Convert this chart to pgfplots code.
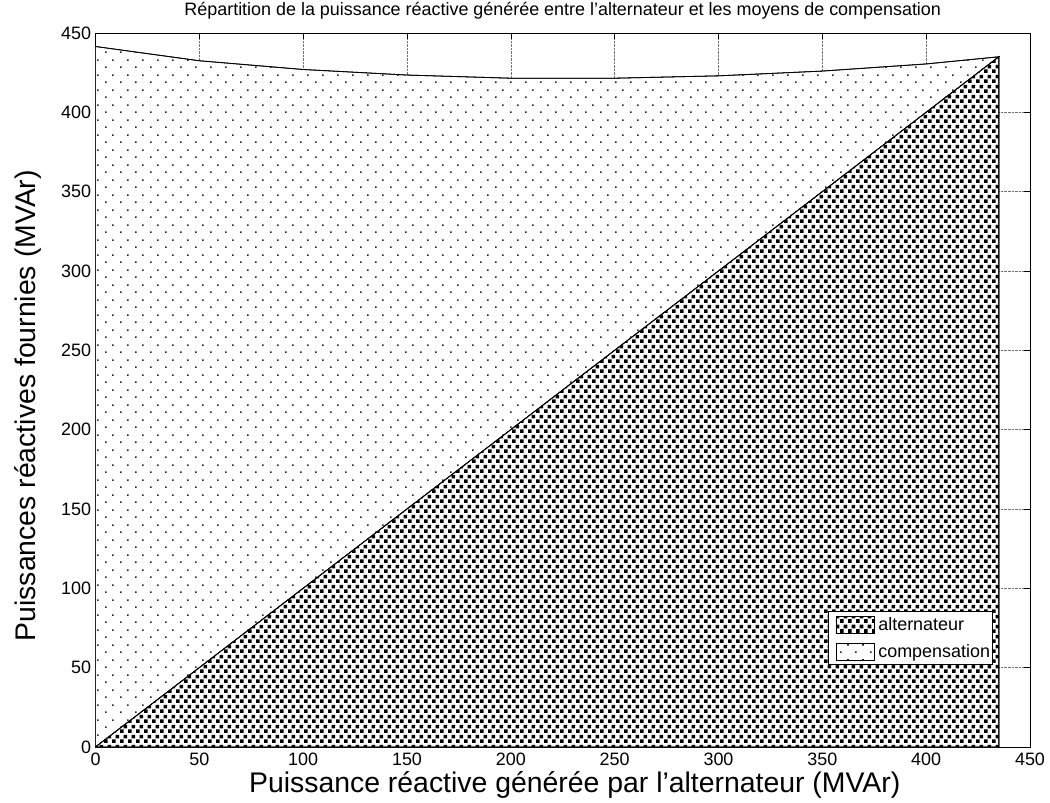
\documentclass[border=0pt]{standalone}
\usepackage{pgfplots}
\pgfplotsset{compat=1.18}
\usepackage{fontspec}
\setmainfont{Liberation Sans}
\usetikzlibrary{patterns}

\pgfdeclarepatternformonly{densesq}{\pgfqpoint{0bp}{0bp}}{\pgfqpoint{8bp}{10bp}}{\pgfqpoint{8bp}{10bp}}{%
  \pgfpathrectangle{\pgfqpoint{0bp}{0bp}}{\pgfqpoint{4bp}{4bp}}%
  \pgfpathrectangle{\pgfqpoint{4bp}{5bp}}{\pgfqpoint{4bp}{4bp}}%
  \pgfusepath{fill}}
\pgfdeclarepatternformonly{sparsedots}{\pgfqpoint{0bp}{0bp}}{\pgfqpoint{15bp}{15bp}}{\pgfqpoint{15bp}{15bp}}{%
  \pgfpathrectangle{\pgfqpoint{0bp}{0bp}}{\pgfqpoint{1.7bp}{1.7bp}}%
  \pgfpathrectangle{\pgfqpoint{7.5bp}{7.5bp}}{\pgfqpoint{1.7bp}{1.7bp}}%
  \pgfusepath{fill}}

\pgfplotsset{layers/mylayers/.define layer set={axis background,axis grid,main,axis ticks,axis lines,axis tick labels,axis descriptions,axis foreground}{}}

\begin{document}
\begin{tikzpicture}
\begin{axis}[
  set layers=mylayers,
  scale only axis, width=934.5bp, height=714bp,
  xmin=0, xmax=450, ymin=0, ymax=450,
  xtick={0,50,...,450}, ytick={0,50,...,450},
  grid=major,
  grid style={densely dotted, black!55, line width=0.5bp},
  axis line style={line width=0.8bp, black},
  tick style={line width=0.6bp, black},
  major tick length=6bp,
  tick align=inside,
  /pgf/number format/assume math mode=true,
  /pgf/number format/1000 sep={},
  tick label style={font=\fontsize{18}{21}\selectfont},
  xticklabel style={yshift=-2bp},
  yticklabel style={xshift=-1bp},
  xlabel={Puissance réactive générée par l'alternateur (MVAr)},
  ylabel={Puissances réactives fournies (MVAr)},
  xlabel style={font=\fontsize{28.5}{32}\selectfont, at={(axis description cs:0.5,0)}, anchor=base, xshift=12bp, yshift=-45bp},
  ylabel style={font=\fontsize{28.5}{32}\selectfont, at={(axis description cs:-0.0647,0.478)}, anchor=base},
  title={Répartition de la puissance réactive générée entre l'alternateur et les moyens de compensation},
  title style={font=\fontsize{18}{21}\selectfont, at={(axis description cs:0.5,1)}, anchor=base, yshift=12bp},
  stack plots=y,
  legend style={at={(axis description cs:0.784,0.190)}, anchor=north west, draw=black, line width=0.8bp,
    font=\fontsize{18}{21}\selectfont, inner xsep=1bp, inner ysep=4bp, row sep=9bp,
    nodes={inner sep=1bp}, cells={anchor=west}},
  legend image code/.code={\path (0bp,0bp) (47bp,0bp); \draw[#1, draw=black, line width=0.8bp] (6bp,-8.5bp) rectangle (44bp,8.5bp);},
]
\addplot[draw=black, line width=0.8bp, fill=white, postaction={pattern=densesq, pattern color=black}]
  coordinates {(0,0) (50,50) (100,100) (150,150) (200,200) (250,250) (300,300) (350,350) (400,400) (435,435)} \closedcycle;
\addlegendentry{alternateur}
\addplot[draw=black, line width=0.8bp, fill=white, postaction={pattern=sparsedots, pattern color=black!85}]
  coordinates {(0,441.5) (50,382.5) (100,327) (150,273.5) (200,221.5) (250,171.5) (300,123) (350,76) (400,30.5) (435,0)} \closedcycle;
\addlegendentry{compensation}
\end{axis}
\pgfresetboundingbox
\path[use as bounding box] ([shift={(-95.5bp,-55bp)}]current axis.south west) rectangle ([shift={(20bp,33bp)}]current axis.north east);
\end{tikzpicture}
\end{document}
